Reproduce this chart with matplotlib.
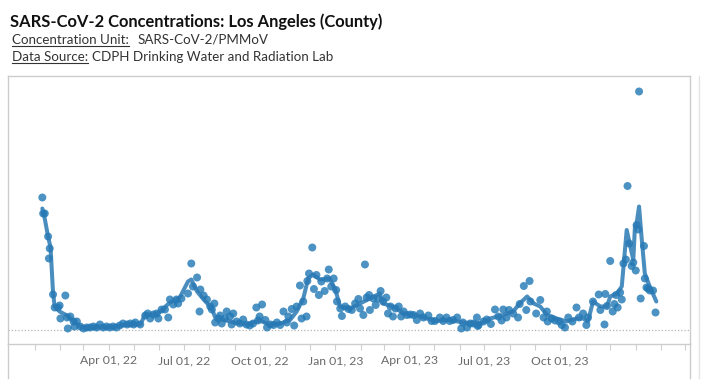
import matplotlib
matplotlib.use('Agg')
import matplotlib.pyplot as plt
from matplotlib.lines import Line2D
import pandas as pd

# ---------------- data ----------------
base_date = pd.Timestamp('2022-04-01')   # day offsets are relative to this date

# individual samples (day offset, concentration in arbitrary units)
dot_day = [-81, -80, -78, -74, -73, -72, -68, -66, -62, -60, -59, -53, -51, -50, -47, -43, -42, -39,
           -35, -31, -27, -23, -19, -15, -11, -7, -3, 1, 5, 9, 13, 17, 22, 26, 30, 32, 38, 44, 47,
           50, 54, 58, 60, 64, 68, 72, 74, 78, 82, 84, 88, 96, 100, 102, 107, 110, 111, 115, 119,
           123, 125, 128, 129, 133, 135, 137, 141, 143, 147, 149, 151, 155, 159, 163, 167, 171,
           175, 179, 181,
           183, 186, 190, 192, 196, 200, 204, 208, 212, 216, 218, 222, 225, 228, 232, 234, 236,
           240, 241, 243, 247, 249, 252, 255, 258, 262, 265, 267, 270, 273, 276, 277, 281, 283,
           287, 291, 295, 299, 303, 305, 309, 311, 313, 316, 317, 321, 324, 327, 330, 333, 337,
           339, 342, 345, 348, 352, 355, 358, 362, 366, 370, 374, 378, 382, 388, 392, 396, 402,
           406, 410, 414, 418, 423, 428, 430, 435, 439, 447, 449,
           443, 448, 455, 459, 464, 469, 473, 477, 479, 483, 486, 491, 497, 499, 504, 507, 511,
           512, 519, 524, 528, 532, 533, 538, 542, 547, 550, 554, 558, 563, 568, 571, 576, 580,
           582, 588, 595, 597, 602, 603, 605, 609, 612, 614, 616, 618, 621, 623, 625, 628, 630,
           632, 635, 637, 640, 641, 643, 644, 646, 650, 651, 653, 655, 657, 661, 664]
dot_val = [132, 116, 116, 93, 71, 81, 35, 22, 22, 24, 11, 34, 12, 1, 13, 8, 3, 8,
           3, 1, 2, 2, 3, 2, 5, 2, 3, 2, 3, 2, 4, 6, 5, 6, 5, 7, 5, 14, 16,
           11, 15, 16, 11, 20, 20, 12, 30, 25, 30, 26, 31, 36, 66, 43, 52, 18, 40, 34, 30,
           23, 20, 26, 7, 11, 14, 6, 11, 18, 13, 5, 16, 8, 6, 10, 5, 4,
           6, 22, 9,
           13, 25, 9.5, 2, 5, 4.5, 7, 4.5, 18, 7, 13, 20.5, 4, 23, 44, 11, 28,
           13, 48.5, 56, 82, 40.5, 54.5, 34.5, 48, 38.5, 51, 60, 43, 51, 39.5, 28, 21, 13.5,
           23, 20.5, 19.5, 26, 30.5, 21, 14.5, 65, 32, 34.5, 19.5, 31, 24.5, 31, 38.5, 28, 32,
           16, 23, 13, 21, 23, 13, 18, 14.5, 15, 14.5, 9.5, 16, 12, 14, 8.5, 8.5, 12,
           8.5, 12, 8.5, 9.5, 12, 1, 7, 2, 6, 12, 4.5,
           6, 3.5, 8, 10, 5.5, 20, 13, 9, 20, 12, 19.5, 16, 12, 25.5, 43.5, 19.5, 48.5,
           28, 16, 29.5, 12, 18, 8, 11, 9, 8, 4.5, 2, 12, 8, 22, 12, 16, 4.5,
           12, 28, 35, 19.5, 5, 35.5, 23.5, 68.5, 18, 25.5, 34.5, 22, 37, 30, 66, 70, 143.5,
           86, 63.5, 67, 59, 104.5, 100, 238, 31, 83.5, 51, 42, 41, 39, 39, 17]

# smoothed trend line
line_day = [-81, -79, -74, -71, -68, -66, -60, -51, -43, -35, -27, -11, 5, 26, 38, 44, 58, 66,
            74, 86, 96, 100, 107, 115, 125, 129, 147, 167, 171, 183, 196, 208, 220, 228, 236,
            242, 248, 256, 268, 275, 279, 281, 293, 305, 317, 329, 333, 345, 358, 370, 386,
            398, 414, 430, 451, 463, 479, 491, 499, 508, 516, 524, 532, 544, 556, 568, 576,
            582, 588, 597, 605, 609, 617, 623, 629, 637, 639, 641, 644, 647, 651, 657, 665]
line_val = [121, 115, 93, 82, 37, 23, 18, 14, 8, 3, 2, 2, 3, 5, 5, 15, 15, 21,
            27, 32, 48, 50, 38, 30, 21, 12, 8, 5, 6, 9, 4.5, 6, 9.5, 18, 31,
            51, 55, 50, 51, 40, 28, 23, 21, 26, 31, 36, 26, 23, 16, 15, 11,
            8.5, 9.5, 7, 6, 11, 14.5, 18, 26, 33, 26, 23, 14.5, 11, 8, 11, 11,
            8, 28, 23, 23, 33, 36, 43, 99.5, 69.5, 103, 106, 123, 93, 56, 43, 28]

tick_months = pd.date_range('2022-01-01', '2024-03-01', freq='MS')
tick_labels = ['Apr 01, 22', 'Jul 01, 22', 'Oct 01, 22', 'Jan 01, 23',
               'Apr 01, 23', 'Jul 01, 23', 'Oct 01, 23']
labelled_months = pd.to_datetime(['2022-04-01', '2022-07-01', '2022-10-01', '2023-01-01',
                                  '2023-04-01', '2023-07-01', '2023-10-01'])

title = 'SARS-CoV-2 Concentrations: Los Angeles (County)'
unit_key, unit_val = 'Concentration Unit:', 'SARS-CoV-2/PMMoV'
src_key, src_val = 'Data Source:', 'CDPH Drinking Water and Radiation Lab'

# ---------------- figure ----------------
W, H = 702, 389
fig = plt.figure(figsize=(W / 100, H / 100), dpi=100)
fig.patch.set_facecolor('white')

def fx(px):
    return px / W

def fy(py):
    return 1 - py / H

ax = fig.add_axes([fx(8), fy(344), fx(690) - fx(8), fy(76) - fy(344)])

dot_dates = base_date + pd.to_timedelta(dot_day, unit='D')
line_dates = base_date + pd.to_timedelta(line_day, unit='D')

blue = '#1f77b4'
ax.axhline(0, color='#b4b4b4', lw=0.9, ls=(0, (1, 1.6)), zorder=1)
ax.scatter(dot_dates, dot_val, s=33, color=blue, alpha=0.8, edgecolors='none', zorder=3)
ax.plot(line_dates, line_val, color='#2a79b4', lw=2.9, alpha=0.85, zorder=4,
        solid_joinstyle='round', solid_capstyle='round')

ax.set_xlim(base_date - pd.Timedelta(days=122.7), base_date + pd.Timedelta(days=705.9))
ax.set_ylim(-14.5, 253.5)
ax.set_yticks([])

labels = []
for d in tick_months:
    if d in labelled_months:
        labels.append(tick_labels[list(labelled_months).index(d)])
    else:
        labels.append('')
ax.set_xticks(tick_months)
ax.set_xticklabels(labels)
ax.tick_params(axis='x', direction='out', length=4, width=0.8, color='#d0d0d0',
               labelcolor='#6a6a6a', labelsize=8.8, pad=4)
for lab in ax.get_xticklabels():
    lab.set_family('Lato')

for sp in ax.spines.values():
    sp.set_color('#cccccc')
    sp.set_linewidth(1)

# frame extensions below the axis
for xpx in (8, 690):
    fig.add_artist(Line2D([fx(xpx), fx(xpx)], [fy(344), fy(378)], color='#cccccc', lw=1))
fig.add_artist(Line2D([fx(699), fx(699)], [fy(76), fy(378)], color='#e4e4e4', lw=1))

# ---------------- header ----------------
fig.text(fx(10), fy(22), title, fontsize=11.9, weight='bold', family='Lato',
         color='#111111', va='center', ha='left')

txt_col = '#333333'
fs = 9.6
t1 = fig.text(fx(12), fy(40), unit_key, fontsize=fs, family='Lato', color=txt_col, va='center')
fig.text(fx(138), fy(40), unit_val, fontsize=fs, family='Lato', color=txt_col, va='center')
t2 = fig.text(fx(12), fy(57), src_key, fontsize=fs, family='Lato', color=txt_col, va='center')
fig.text(fx(92), fy(57), src_val, fontsize=fs, family='Lato', color=txt_col, va='center')

fig.canvas.draw()
r = fig.canvas.get_renderer()
for t, ypx in ((t1, 46), (t2, 63)):
    bb = t.get_window_extent(renderer=r)
    fig.add_artist(Line2D([bb.x0 / W, bb.x1 / W], [fy(ypx), fy(ypx)], color=txt_col, lw=0.8))

fig.savefig('out.png', dpi=100, facecolor='white')
